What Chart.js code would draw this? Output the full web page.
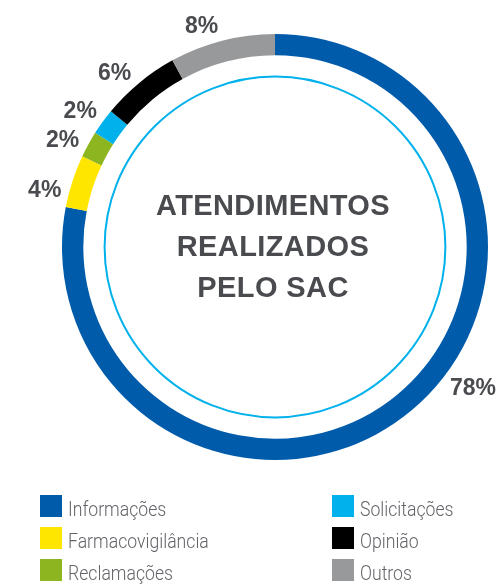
<!DOCTYPE html>
<html>
<head>
<meta charset="utf-8">
<script src="https://cdn.jsdelivr.net/npm/chart.js@4.4.1/dist/chart.umd.min.js"></script>
<style>
  body { margin: 0; background: #fff; }
  #wrap { position: relative; width: 502px; height: 584px; }
  #chartBox { position: absolute; left: 0; top: 0; width: 502px; height: 480px; }
  #legend { position: absolute; left: 0; top: 0; width: 502px; height: 584px; pointer-events: none; }
  .item { position: absolute; height: 22px; }
  .box { position: absolute; left: 0; top: 0; width: 22px; height: 22px; }
  .txt { position: absolute; left: 28px; top: 0px; font-family: Roboto, sans-serif; font-weight: 300;
         font-size: 21px; line-height: 22px; color: #636468; white-space: nowrap;
         transform: scaleX(0.84); transform-origin: left center; }
</style>
</head>
<body>
<div id="wrap">
  <div id="chartBox"><canvas id="sacChart"></canvas></div>
  <div id="legend"></div>
</div>
<script>
var categories = ['Informações', 'Farmacovigilância', 'Reclamações', 'Solicitações', 'Opinião', 'Outros'];
var values = [78, 4, 2, 2, 6, 8];
var colors = ['#005baa', '#ffe600', '#8cb51f', '#00b1eb', '#000000', '#97999b'];
var titleLines = ['ATENDIMENTOS', 'REALIZADOS', 'PELO SAC'];
// small nudges (degrees) so the % labels sit where the original put them
var labelShift = [-15, -4, -2, -1, -3, -4];

// center title + inner thin circle
var centerPlugin = {
     id: 'centerStuff',
     afterDatasetsDraw: function(chart) {
          var ctx = chart.ctx;
          var arc = chart.getDatasetMeta(0).data[0];
          var cx = arc.x, cy = arc.y;
          ctx.save();
          ctx.beginPath();
          ctx.arc(cx, cy, arc.outerRadius * 0.8, 0, Math.PI * 2);
          ctx.strokeStyle = '#00b1eb';
          ctx.lineWidth = 2;
          ctx.stroke();

          ctx.fillStyle = '#4a4b4f';
          ctx.font = 'bold 29px Arial, "Liberation Sans", sans-serif';
          ctx.letterSpacing = '0.4px';
          ctx.textAlign = 'center';
          ctx.textBaseline = 'middle';
          for (var i = 0; i < titleLines.length; i++) {
               ctx.fillText(titleLines[i], cx - 2, cy - 40 + i * 41);
          }
          ctx.restore();
     }
};

// percent labels outside the ring
var pctPlugin = {
     id: 'pctLabels',
     afterDatasetsDraw: function(chart) {
          var ctx = chart.ctx;
          var meta = chart.getDatasetMeta(0);
          ctx.save();
          ctx.fillStyle = '#4a4b4f';
          ctx.font = 'bold 23px Arial, "Liberation Sans", sans-serif';
          ctx.textAlign = 'center';
          ctx.textBaseline = 'middle';
          meta.data.forEach(function(el, i) {
               var txt = values[i] + '%';
               var w = ctx.measureText(txt).width;
               var a = (el.startAngle + el.endAngle) / 2 + labelShift[i] * Math.PI / 180;
               var r = el.outerRadius + 6 + (w / 2) * Math.abs(Math.cos(a)) + 9 * Math.abs(Math.sin(a));
               ctx.fillText(txt, el.x + r * Math.cos(a), el.y + r * Math.sin(a) + 1);
          });
          ctx.restore();
     }
};

var chart = new Chart(document.getElementById('sacChart'), {
     type: 'doughnut',
     data: {
          labels: categories,
          datasets: [
               {
                    data: values,
                    backgroundColor: colors,
                    borderWidth: 0,
                    hoverOffset: 0
               }
          ]
     },
     options: {
          responsive: true,
          maintainAspectRatio: false,
          animation: false,
          cutout: '90%',
          layout: {
               padding: { left: 62, right: 14, top: 34, bottom: 20 }
          },
          plugins: {
               legend: { display: false },
               tooltip: { enabled: false }
          }
     },
     plugins: [centerPlugin, pctPlugin]
});

// html legend, two columns of three
var legendBox = document.getElementById('legend');
var items = Chart.overrides.doughnut.plugins.legend.labels.generateLabels(chart);
items.forEach(function(item, i) {
     var col = Math.floor(i / 3);
     var row = i % 3;
     var div = document.createElement('div');
     div.className = 'item';
     div.style.left = (col === 0 ? 40 : 332) + 'px';
     div.style.top = (495 + row * 32) + 'px';
     var box = document.createElement('div');
     box.className = 'box';
     box.style.background = item.fillStyle;
     var txt = document.createElement('span');
     txt.className = 'txt';
     txt.style.top = '3px';
     txt.textContent = item.text;
     div.appendChild(box);
     div.appendChild(txt);
     legendBox.appendChild(div);
});
</script>
</body>
</html>
